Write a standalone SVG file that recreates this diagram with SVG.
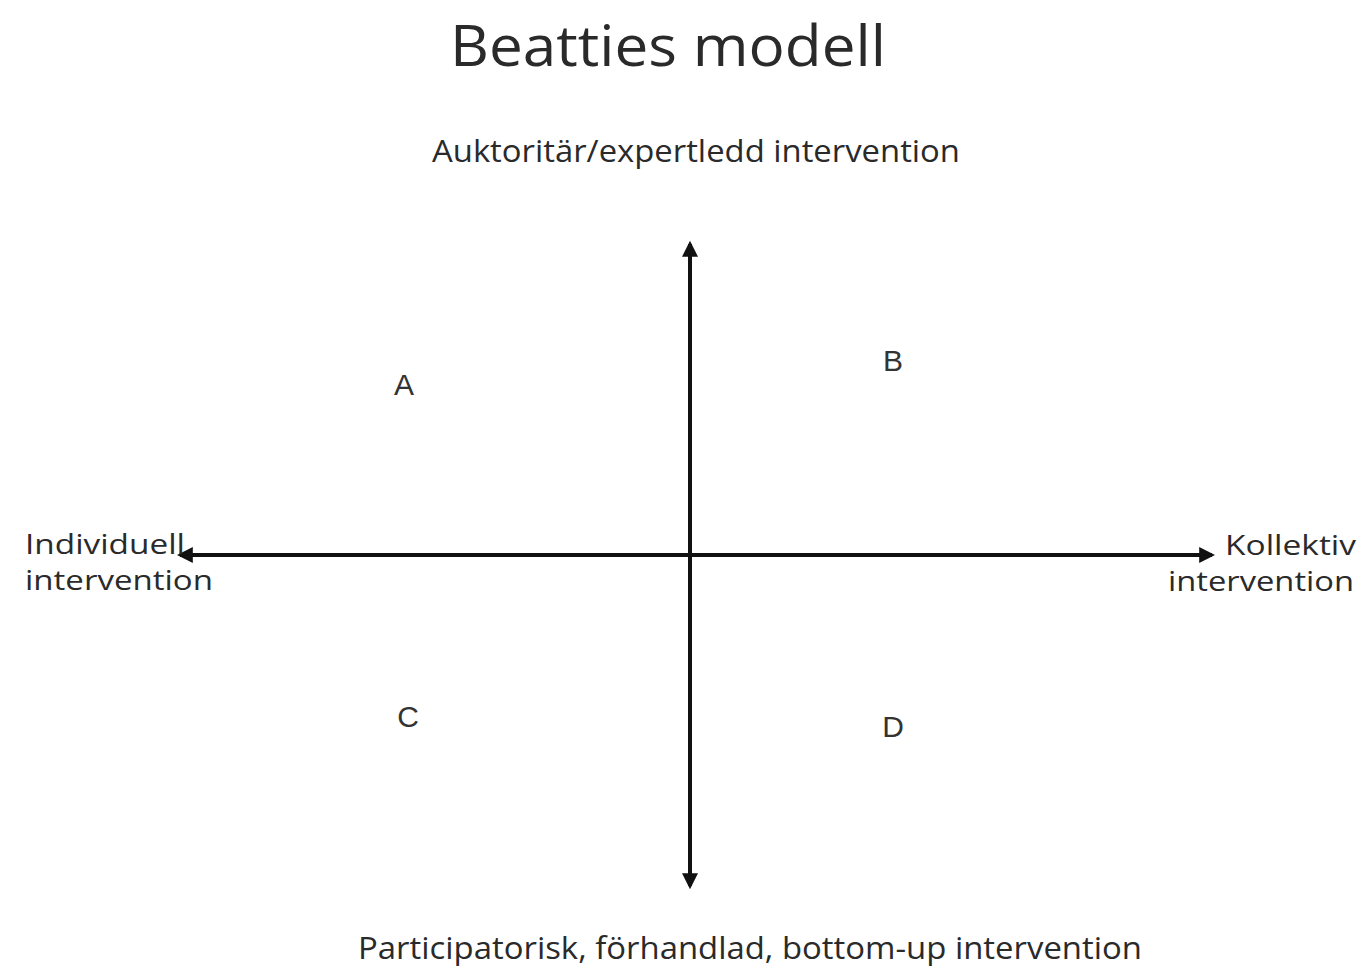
<svg xmlns="http://www.w3.org/2000/svg" width="1366" height="968" viewBox="0 0 1366 968">
<style>
.t{font-family:"Open Sans","Noto Sans","DejaVu Sans",sans-serif;fill:#2a2a2a}
.s{font-size:28px}
.q{font-family:"Liberation Sans",Arial,sans-serif;fill:#333;font-size:30px;text-anchor:middle}
.ax{stroke:#111;stroke-width:4;fill:none}
</style>
<defs>
<marker id="ah" viewBox="0 0 10 10" refX="8" refY="5" markerWidth="4" markerHeight="4" orient="auto-start-reverse" markerUnits="strokeWidth">
<path d="M0,0 L10,5 L0,10 Z" fill="#111"/>
</marker>
</defs>
<rect width="1366" height="968" fill="#fff"/>
<g id="title"><text class="t" x="450" y="66" font-size="56" textLength="436" lengthAdjust="spacingAndGlyphs">Beatties modell</text></g>
<g id="connectors">
<line class="ax" x1="690" y1="244" x2="690" y2="886" marker-start="url(#ah)" marker-end="url(#ah)"/>
<line class="ax" x1="180" y1="555" x2="1212" y2="555" marker-start="url(#ah)" marker-end="url(#ah)"/>
</g>
<g id="top"><text class="t" x="432" y="162" font-size="31" textLength="528" lengthAdjust="spacingAndGlyphs">Auktoritär/expertledd intervention</text></g>
<g id="bottom"><text class="t" x="358" y="959" font-size="31" textLength="784" lengthAdjust="spacingAndGlyphs">Participatorisk, förhandlad, bottom-up intervention</text></g>
<g id="left"><text class="t s" x="25" y="554" textLength="160" lengthAdjust="spacingAndGlyphs">Individuell</text><text class="t s" x="25" y="590" textLength="188" lengthAdjust="spacingAndGlyphs">intervention</text></g>
<g id="right"><text class="t s" x="1225" y="555" textLength="131" lengthAdjust="spacingAndGlyphs">Kollektiv</text><text class="t s" x="1168" y="591" textLength="186" lengthAdjust="spacingAndGlyphs">intervention</text></g>
<g id="A"><text class="q" x="404" y="395">A</text></g>
<g id="B"><text class="q" x="893" y="371">B</text></g>
<g id="C"><text class="q" x="408" y="727">C</text></g>
<g id="D"><text class="q" x="893" y="737">D</text></g>
</svg>
